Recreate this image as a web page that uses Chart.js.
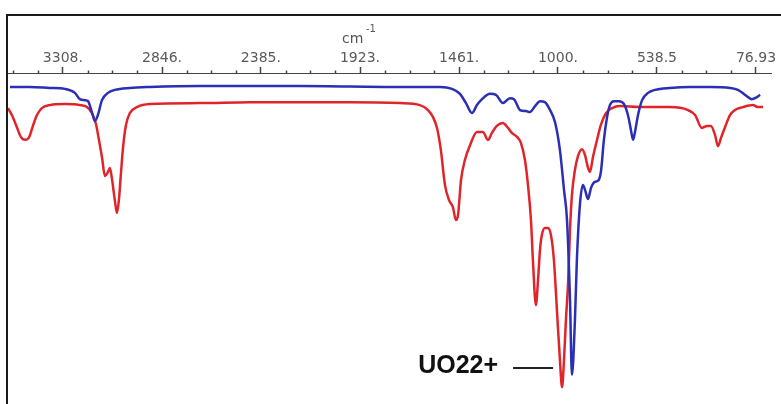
<!DOCTYPE html>
<html>
<head>
<meta charset="utf-8">
<script src="https://cdn.jsdelivr.net/npm/chart.js@4"></script>
<style>
  html, body { margin: 0; padding: 0; background: #fff; overflow: hidden; }
  #wrap { position: relative; width: 781px; height: 404px; }
  #frame { position: absolute; left: 6px; top: 14px; width: 900px; height: 600px;
           border-top: 2px solid #1a1a1a; border-left: 2px solid #1a1a1a; }
  #spectrum { position: absolute; left: 0; top: 0; }
</style>
</head>
<body>
<div id="wrap">
  <div id="frame"></div>
  <canvas id="spectrum" width="781" height="404"></canvas>
</div>
<script>
// axis ticks (cm-1), shown reversed like the instrument printout
const majorTicks = [3308, 2846, 2385, 1923, 1461, 1000, 538.5, 76.93];
const tickLabels = ['3308.', '2846.', '2385.', '1923.', '1461.', '1000.', '538.5', '76.93'];
const minorTicks = [3539, 3423, 3192, 3077, 2962, 2731, 2616, 2500, 2270, 2154, 2039,
  1808, 1692, 1577, 1346, 1231, 1115, 885, 769, 654, 423, 308, 192];

// blue spectrum
const blueWavenumber = [3555, 3462, 3369, 3299, 3252, 3229, 3205, 3191, 3173, 3159, 3145, 3126, 3098, 3066,
  2996, 2902, 2669, 2203, 1737, 1550, 1494, 1457, 1429, 1401, 1378, 1354, 1317, 1289, 1257, 1224, 1205,
  1177, 1149, 1131, 1107, 1084, 1061, 1037, 1014, 991, 972, 958, 944, 935, 921, 912, 898, 884, 874, 860,
  846, 828, 814, 800, 786, 772, 758, 739, 716, 692, 674, 660, 650, 641, 627, 608, 580, 548, 478, 385, 291,
  198, 161, 128, 96, 72, 58];
const blueT = [95.8, 95.8, 95.5, 95.2, 94.0, 92.1, 91.8, 91.5, 88.2, 85.5, 87.3, 91.8, 94.0, 94.9,
  95.5, 95.8, 96.1, 96.1, 95.8, 95.8, 95.2, 93.7, 90.9, 87.9, 90.3, 92.1, 93.7, 93.4, 90.9, 92.4, 92.1,
  88.8, 88.5, 88.2, 90.0, 91.5, 91.2, 88.8, 85.2, 76.7, 64.7, 55.6, 31.4, 8.8, 25.4, 43.5, 60.1, 66.2, 64.7, 61.9,
  65.3, 67.1, 67.4, 70.1, 79.8, 86.4, 90.3, 91.5, 91.5, 90.6, 87.3, 82.8, 79.8, 82.2, 87.3, 91.8, 94.0, 94.9, 95.5, 95.8, 95.8,
  95.5, 94.9, 93.4, 92.1, 92.7, 93.4];

// red spectrum
const redWavenumber = [3564, 3546, 3523, 3504, 3485, 3467, 3448, 3429, 3406, 3369, 3299, 3229, 3196, 3173,
  3154, 3140, 3126, 3112, 3098, 3089, 3080, 3066, 3056, 3047, 3038, 3028, 3014, 2996, 2963, 2902, 2669, 2436,
  1970, 1737, 1644, 1606, 1583, 1564, 1546, 1527, 1508, 1490, 1476, 1466, 1452, 1434, 1410, 1378, 1350, 1326,
  1308, 1285, 1257, 1233, 1215, 1191, 1173, 1154, 1140, 1126, 1117, 1103, 1093, 1084, 1075, 1061, 1047, 1033,
  1019, 1005, 991, 981, 972, 963, 953, 944, 935, 921, 907, 888, 874, 860, 851, 837, 818, 800, 776, 748, 711,
  618, 478, 394, 361, 329, 305, 287, 268, 254, 240, 221, 198, 175, 138, 91, 68, 44];
const redT = [89.4, 87.3, 83.7, 80.7, 79.8, 80.4, 84.0, 87.3, 89.4, 90.3, 90.6, 90.3, 89.7, 87.9,
  84.6, 79.8, 74.6, 68.9, 70.1, 71.3, 68.3, 61.6, 57.7, 61.6, 69.2, 77.3, 84.3, 87.9, 89.7, 90.6, 90.9, 91.2,
  91.2, 90.9, 90.3, 88.8, 86.7, 83.4, 76.7, 66.2, 61.6, 59.5, 55.6, 57.1, 67.7, 73.7, 78.2, 82.2, 82.2, 79.8,
  81.9, 84.0, 84.9, 83.4, 81.9, 80.7, 78.9, 73.7, 66.2, 55.6, 43.5, 29.9, 37.5, 46.5, 51.1, 53.2, 53.2, 51.1,
  43.5, 28.4, 13.3, 5.1, 13.3, 25.4, 36.6, 52.6, 63.1, 70.7, 74.9, 77.0, 75.2, 71.3, 70.1, 74.6, 79.8, 84.3, 87.9, 89.4, 90.0,
  89.7, 89.7, 88.8, 87.3, 83.4, 84.0, 84.0, 81.3, 77.9, 80.4, 83.7, 87.3, 88.8, 89.7, 90.3, 89.7, 89.7];

const toPoints = (xs, ys) => xs.map((x, i) => ({ x: x, y: ys[i] }));

Chart.defaults.font.family = 'DejaVu Sans';

// small dot ticks, the unit and the UO2 2+ label
const extras = {
  id: 'extras',
  afterDraw(chart) {
    const ctx = chart.ctx;
    const xs = chart.scales.x;
    const ys = chart.scales.y;
    ctx.save();
    ctx.strokeStyle = '#444';
    ctx.lineWidth = 1.5;
    minorTicks.forEach(v => {
      const px = Math.round(xs.getPixelForValue(v)) + 0.5;
      ctx.beginPath();
      ctx.moveTo(px, xs.bottom - 2.5);
      ctx.lineTo(px, xs.bottom);
      ctx.stroke();
    });

    ctx.fillStyle = '#555';
    ctx.textBaseline = 'alphabetic';
    ctx.textAlign = 'left';
    ctx.font = '14px "DejaVu Sans"';
    ctx.fillText('cm', 342, 43);
    ctx.font = '10px "DejaVu Sans"';
    ctx.fillText('-1', 366, 32);

    // label pointing at the main band
    const endX = xs.getPixelForValue(1023);
    const lineY = ys.getPixelForValue(10.9);
    ctx.strokeStyle = '#222';
    ctx.lineWidth = 2;
    ctx.beginPath();
    ctx.moveTo(endX - 40, lineY);
    ctx.lineTo(endX, lineY);
    ctx.stroke();
    ctx.fillStyle = '#111';
    ctx.font = 'bold 25px "Liberation Sans"';
    ctx.textAlign = 'right';
    ctx.fillText('UO22+', endX - 55, lineY + 5);
    ctx.restore();
  }
};

new Chart(document.getElementById('spectrum'), {
  type: 'line',
  data: {
    datasets: [{
      data: toPoints(blueWavenumber, blueT),
      borderColor: '#2b2fb5',
      borderWidth: 2.5,
      pointRadius: 0,
      cubicInterpolationMode: 'monotone'
    }, {
      data: toPoints(redWavenumber, redT),
      borderColor: '#e0252a',
      borderWidth: 2.5,
      pointRadius: 0,
      cubicInterpolationMode: 'monotone'
    }]
  },
  options: {
    responsive: false,
    animation: false,
    events: [],
    layout: {
      padding: { left: 8, right: 10, top: 0, bottom: 0 }
    },
    plugins: {
      legend: { display: false },
      tooltip: { enabled: false }
    },
    scales: {
      x: {
        type: 'linear',
        position: 'top',
        reverse: true,
        min: 7,
        max: 3564,
        afterBuildTicks: scale => {
          scale.ticks = majorTicks.map(v => ({ value: v }));
        },
        afterFit: scale => {
          scale.height = 73;
        },
        ticks: {
          autoSkip: false,
          maxRotation: 0,
          padding: 0,
          color: '#5a5a5a',
          font: { size: 14 },
          callback: (value, index) => tickLabels[index]
        },
        grid: {
          drawOnChartArea: false,
          drawTicks: true,
          tickLength: 6,
          tickColor: '#444',
          tickWidth: 1.5
        },
        border: { display: true, color: '#444', width: 1 }
      },
      y: {
        display: false,
        min: 0,
        max: 100
      }
    }
  },
  plugins: [extras]
});
</script>
</body>
</html>
